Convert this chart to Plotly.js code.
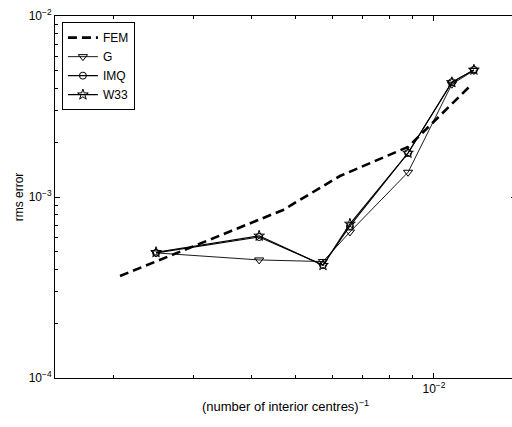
<!DOCTYPE html>
<html>
<head>
<meta charset="utf-8">
<script src="https://cdn.plot.ly/plotly-3.0.1.min.js"></script>
<style>
html,body{margin:0;padding:0;overflow:hidden;background:#fff;}
#chart{width:520px;height:427px;}
</style>
</head>
<body>
<div id="chart"></div>
<script>
// Data
const femX = [2.07e-3, 4.69e-3, 6.24e-3, 8.78e-3, 1.198e-2];
const femY = [3.66e-4, 8.48e-4, 1.306e-3, 1.89e-3, 4.10e-3];

const rbfX = [2.48e-3, 4.16e-3, 5.73e-3, 6.56e-3, 8.78e-3, 1.094e-2, 1.222e-2];
const gY   = [4.91e-4, 4.49e-4, 4.40e-4, 6.41e-4, 1.37e-3, 4.20e-3, 5.00e-3];
const imqY = [4.91e-4, 6.01e-4, 4.21e-4, 6.92e-4, 1.75e-3, 4.31e-3, 5.04e-3];
const w33Y = [4.95e-4, 6.10e-4, 4.20e-4, 7.10e-4, 1.75e-3, 4.30e-3, 5.04e-3];

const seriesNames = ['FEM', 'G', 'IMQ', 'W33'];

const xMajor = [1e-2];
const xMajorText = ['10<sup>−2</sup>'];
const xMinor = [2e-3, 3e-3, 4e-3, 5e-3, 6e-3, 7e-3, 8e-3, 9e-3, 2e-2];
const yMajor = [1e-4, 1e-3, 1e-2];
const yMajorText = ['10<sup>−4</sup>', '10<sup>−3</sup>', '10<sup>−2</sup>'];
const yMinor = [2e-4, 3e-4, 4e-4, 5e-4, 6e-4, 7e-4, 8e-4, 9e-4,
                2e-3, 3e-3, 4e-3, 5e-3, 6e-3, 7e-3, 8e-3, 9e-3];

const font = 'Liberation Sans, Arial, Helvetica, sans-serif';

const traces = [
  {x: femX, y: femY, name: seriesNames[0], mode: 'lines',
   line: {color: '#000', width: 2.6, dash: '9px,5px'}},
  {x: rbfX, y: gY, name: seriesNames[1], mode: 'lines+markers',
   line: {color: '#000', width: 0.9},
   marker: {symbol: 'triangle-down-open', size: 8, color: '#000', line: {width: 1, color: '#000'}}},
  {x: rbfX, y: imqY, name: seriesNames[2], mode: 'lines+markers',
   line: {color: '#000', width: 1.1},
   marker: {symbol: 'circle-open', size: 7, color: '#000', line: {width: 1, color: '#000'}}},
  {x: rbfX, y: w33Y, name: seriesNames[3], mode: 'lines+markers',
   line: {color: '#000', width: 1.1},
   marker: {symbol: 'star-open', size: 8, color: '#000', line: {width: 1, color: '#000'}}}
];

const axisCommon = {
  type: 'log',
  showgrid: false,
  zeroline: false,
  showline: true,
  linecolor: '#000',
  linewidth: 1,
  mirror: 'ticks',
  ticks: 'inside',
  ticklen: 5,
  tickwidth: 1,
  tickcolor: '#000',
  tickmode: 'array',
  tickfont: {family: font, size: 12, color: '#000'}
};

const layout = {
  width: 520,
  height: 427,
  margin: {l: 55, r: 4, t: 16, b: 49},
  paper_bgcolor: '#fff',
  plot_bgcolor: '#fff',
  showlegend: true,
  font: {family: font, color: '#000'},
  xaxis: Object.assign({}, axisCommon, {
    range: [-2.8257, -1.8213],
    tickvals: xMajor,
    ticktext: xMajorText,
    minor: {tickmode: 'array', tickvals: xMinor, ticks: 'inside', ticklen: 3, tickcolor: '#000', showgrid: false},
    title: {text: '(number of interior centres)<sup>−1</sup>', font: {family: font, size: 13, color: '#000'}, standoff: 6}
  }),
  yaxis: Object.assign({}, axisCommon, {
    range: [-4, -2],
    tickvals: yMajor,
    ticktext: yMajorText,
    minor: {tickmode: 'array', tickvals: yMinor, ticks: 'inside', ticklen: 3, tickcolor: '#000', showgrid: false},
    title: {text: 'rms error', font: {family: font, size: 12, color: '#000'}, standoff: 2}
  }),
  legend: {
    x: 0.015, y: 0.983, xanchor: 'left', yanchor: 'top',
    bgcolor: '#fff', bordercolor: '#000', borderwidth: 1,
    font: {family: font, size: 12, color: '#000'},
    tracegroupgap: 0,
    itemwidth: 30
  }
};

Plotly.newPlot('chart', traces, layout, {displayModeBar: false, staticPlot: true});
</script>
</body>
</html>
